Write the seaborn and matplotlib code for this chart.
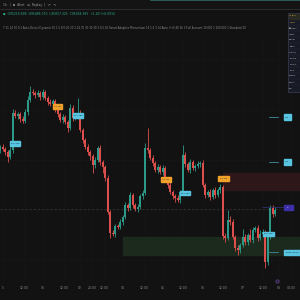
import matplotlib
matplotlib.use("Agg")
import numpy as np
import pandas as pd
import seaborn as sns
import matplotlib.pyplot as plt
from matplotlib.patches import Rectangle

# ---------------- data (price units) ----------------
first_open = 150
closes = [153, 151, 148, 143, 150, 187, 184, 186, 181, 179,
          188, 200, 208, 207, 205, 207, 203, 208, 202, 198,
          196, 199, 192, 186, 180, 183, 178, 172, 192, 182,
          184, 187, 170, 160, 153, 148, 144, 135, 140, 152,
          138, 133, 122, 88, 67, 66, 74, 73, 78, 83,
          95, 92, 105, 95, 91, 93, 104, 107, 152, 150,
          142, 137, 130, 133, 128, 132, 120, 115, 108, 104,
          102, 100, 108, 145, 136, 130, 138, 132, 134, 136,
          137, 115, 105, 108, 103, 110, 105, 110, 113, 64,
          62, 80, 78, 63, 52, 50, 55, 63, 58, 65,
          60, 70, 72, 62, 66, 68, 38, 63, 92, 86, 90]
wick_up = [2, 3, 2, 2, 3, 4, 3, 2, 2, 3,
           3, 4, 6, 3, 2, 3, 2, 3, 2, 2,
           3, 2, 2, 3, 2, 3, 2, 2, 4, 3,
           2, 15, 3, 2, 2, 3, 2, 2, 3, 2,
           3, 2, 2, 3, 2, 3, 2, 2, 3, 2,
           3, 2, 3, 2, 2, 3, 2, 3, 5, 20,
           2, 3, 2, 3, 2, 3, 2, 2, 3, 2,
           2, 3, 2, 10, 3, 2, 3, 2, 2, 3,
           2, 3, 2, 2, 3, 2, 3, 2, 3, 2,
           3, 10, 4, 3, 2, 3, 2, 8, 3, 2,
           6, 3, 2, 3, 4, 3, 2, 3, 3, 3, 3]
wick_dn = [3, 2, 3, 5, 2, 3, 2, 3, 3, 2,
           2, 3, 2, 2, 3, 2, 3, 2, 2, 3,
           2, 3, 4, 3, 2, 3, 2, 4, 2, 3,
           2, 3, 2, 3, 2, 3, 4, 8, 3, 2,
           3, 6, 3, 2, 5, 2, 3, 2, 2, 3,
           2, 3, 2, 3, 2, 3, 2, 3, 2, 3,
           2, 3, 2, 3, 2, 3, 2, 3, 2, 3,
           4, 2, 3, 2, 3, 2, 3, 2, 3, 2,
           3, 2, 3, 2, 3, 2, 3, 2, 3, 3,
           4, 2, 3, 2, 3, 5, 3, 2, 3, 3,
           2, 3, 2, 3, 2, 3, 6, 3, 2, 3, 2]

tick_labels = ["5", "12:00", "06", "12:00", "02", "20:00", "12:00", "04", "12:00",
               "05", "12:00", "06", "12:00", "07", "12:00", "08", "04:00"]
tick_px = [3, 24, 43, 64, 80, 92, 104, 123, 144, 163, 183, 203, 223, 243, 263, 279, 291]

panel_rows = ["LT Bull", "Trend", "\u25cf Exec", "Adapt", "Signal", "Ratio",
              "Ratio T", "Diverg.", "Predict", "Posit.", "Confid.", "Struct.", "S/R"]

# ---------------- build frame ----------------
opens = [first_open] + closes[:-1]
df = pd.DataFrame({"open": opens, "close": closes})
df["i"] = np.arange(len(df))
df["high"] = df[["open", "close"]].max(axis=1) + np.array(wick_up)
df["low"] = df[["open", "close"]].min(axis=1) - np.array(wick_dn)
df["up"] = df["close"] >= df["open"]

BG = "#121212"
GREEN = "#2c9a88"
RED = "#dc4f4c"
sns.set_theme(style="dark", rc={"axes.facecolor": BG, "figure.facecolor": BG})
plt.rcParams["font.family"] = ["DejaVu Sans"]

fig = plt.figure(figsize=(3, 3), dpi=100)
ax = fig.add_axes([0, 0, 1, 1])
ax.set_xlim(0, 120)
ax.set_ylim(0, 300)
ax.set_axis_off()
ax.add_patch(Rectangle((0, 0), 120, 300, color=BG, zorder=0))

def px(x):
    return x / 2.5

def py(y):
    return 300 - y

# faint grid
for gy in [60, 110, 160, 210, 260]:
    ax.plot([0, px(278)], [py(gy)] * 2, color="#171717", lw=0.5, zorder=1)
for gx in tick_px:
    ax.plot([px(gx)] * 2, [py(40), py(280)], color="#161616", lw=0.5, zorder=1)

# zones
ax.add_patch(Rectangle((px(123), py(255)), px(300) - px(123), 18, color="#1c2a1e", zorder=1.5))
ax.add_patch(Rectangle((px(223), py(190)), px(300) - px(223), 17, color="#2e1718", zorder=1.5))

# dashed level line
ax.plot([0, px(280)], [py(209)] * 2, color="#3a3a3a", lw=0.5, ls=(0, (3, 3)), zorder=1.6)

# candles
cols = np.where(df["up"], GREEN, RED)
ax.vlines(df["i"], df["low"], df["high"], colors=cols, lw=0.6, zorder=2)
body_lo = df[["open", "close"]].min(axis=1)
body_h = (df["close"] - df["open"]).abs().clip(lower=0.8)
ax.bar(df["i"], body_h, bottom=body_lo, width=0.8, color=cols, lw=0, zorder=3)

# labels on chart
def tag(x0, x1, y0, y1, color, txt="", tc="#0d2a33"):
    ax.add_patch(Rectangle((px(x0), py(y1)), px(x1) - px(x0), y1 - y0, color=color, zorder=5))
    if txt:
        ax.text((px(x0) + px(x1)) / 2, py((y0 + y1) / 2), txt, fontsize=1.6, color=tc,
                ha="center", va="center", zorder=6)

CY = "#58c4e0"
OR = "#f2a22b"
tag(10, 20, 141, 146, CY, "B 1.750")
tag(53, 62, 104, 109, OR, "S 1.80")
tag(73, 83, 113, 118, CY, "B 1.750")
tag(161, 171, 177, 182, OR, "S 1.80")
tag(180, 190, 191, 195, CY, "B 1.750")
tag(218, 229, 176, 181, OR, "S 1.80")
tag(263, 274, 232, 236, CY, "B 1.750")
for yy in [117, 162, 252]:
    ax.plot([px(269), px(278)], [py(yy)] * 2, color="#3b7f8f", lw=0.7, zorder=4)
tag(284, 291, 114, 120, CY, "TP2")
tag(284, 291, 159, 165, CY, "TP1")
tag(284, 300, 250, 255, CY, "Entry 95.1k")
ax.plot([px(262), px(283)], [py(207)] * 2, color="#30306a", lw=0.6, zorder=4)
tag(284, 293, 205, 210, "#3b30a8", "SL", tc="#c8c8ff")

# x axis labels
for t, x in zip(tick_labels, tick_px):
    ax.text(px(x), py(288), t, fontsize=2.2, color="#8a8a8a", ha="center", va="center")
ax.scatter([px(277)], [py(281)], s=6, facecolor="#2a1f3d", edgecolor="#6a4fa0", lw=0.4, zorder=6)

# top toolbar
ax.add_patch(Rectangle((0, py(9)), 120, 9, color="#141414", zorder=5))
ax.plot([0, 120], [py(9)] * 2, color="#2c2c2c", lw=0.7, zorder=6)
ax.plot([px(150), 120], [py(0.4)] * 2, color="#2a5d5a", lw=0.7, zorder=6)
ax.text(px(3), py(5), "1h   |  \u229e  Alert   \u21c6  Replay  |   \u21b6   \u21b7",
        fontsize=2.2, color="#9a9a9a", ha="left", va="center", zorder=7)
ax.text(px(3), py(14), "\u25cf  O95219.696  H95486.750  L95057.325  C95364.365  +1.40 (+0.05%)",
        fontsize=2.2, color="#2fb08f", ha="left", va="center", zorder=7)
ax.text(px(3), py(28),
        "7 11 14 70 0.1 Auto-Detect Dynamic 50 1.5 8 0.05 20 1 14 70 30 30 30 3 0.5 10 Smart Adaptive Momentum "
        "14 1.5 3 14 Auto (+4) 40 16 3 Full Account 10,000 1 100,000 1 Standard 10",
        fontsize=1.9, color="#8c8c8c", ha="left", va="center", zorder=7)

# right info panel
ax.add_patch(Rectangle((px(288), py(92)), px(300) - px(288), 79, facecolor="#181b26",
                       edgecolor="#3a3f55", lw=0.5, zorder=7))
for k, row in enumerate(panel_rows):
    yy = 16 + k * 6.0
    c = "#e8c44a" if k < 2 else "#d0d0d0"
    if k == 0:
        ax.add_patch(Rectangle((px(288.5), py(18.5)), px(300) - px(288.5), 5, color="#2a2a20", zorder=7.5))
    ax.text(px(289.3), py(yy), row, fontsize=1.5, color=c, ha="left", va="center", zorder=8)
    if k < 12:
        ax.plot([px(288), px(300)], [py(yy + 3)] * 2, color="#2a2e3e", lw=0.3, zorder=7.6)

fig.savefig("out.png", dpi=100, facecolor=BG)
